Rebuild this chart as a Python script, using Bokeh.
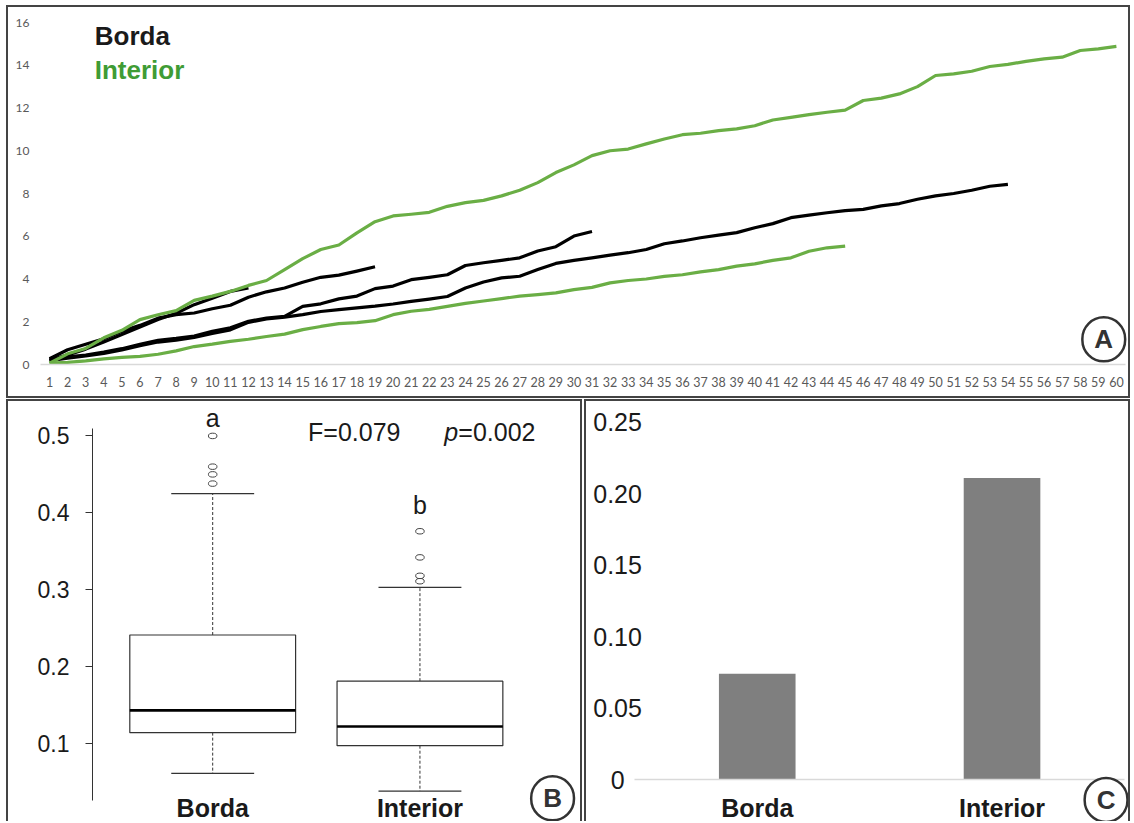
from bokeh.plotting import figure
from bokeh.models import Range1d, FixedTicker, Label, Spacer, LinearAxis
from bokeh.layouts import column, row
from bokeh.embed import file_html
from bokeh.resources import INLINE

FONT = "Liberation Sans"
TICK_FONT = "Lato"
GREEN = "#6aae45"
GREEN_TEXT = "#3f9c35"
INK = "#1a1a1a"
FRAME = "2px solid #444444"

# ---------------- Panel A: cumulative curves per day ----------------
days = list(range(1, 61))
borda_a = [0.20, 0.45, 0.72, 1.05, 1.40, 1.75, 2.10, 2.40, 2.80, 3.10, 3.42, 3.58]
borda_b = [0.27, 0.69, 0.95, 1.20, 1.55, 1.83, 2.17, 2.33, 2.41, 2.61,
           2.77, 3.15, 3.40, 3.58, 3.85, 4.08, 4.18, 4.37, 4.57]
borda_c = [0.22, 0.36, 0.44, 0.58, 0.74, 0.95, 1.13, 1.22, 1.33, 1.55,
           1.72, 2.02, 2.17, 2.25, 2.72, 2.84, 3.07, 3.20, 3.55, 3.67,
           3.97, 4.08, 4.20, 4.63, 4.76, 4.87, 4.99, 5.31, 5.51, 6.01, 6.22]
borda_d = [0.18, 0.30, 0.40, 0.52, 0.68, 0.88, 1.05, 1.14, 1.27, 1.45,
           1.62, 1.97, 2.13, 2.22, 2.33, 2.48, 2.57, 2.65, 2.73, 2.83,
           2.95, 3.06, 3.18, 3.58, 3.86, 4.05, 4.13, 4.44, 4.73, 4.87,
           4.99, 5.12, 5.23, 5.38, 5.65, 5.78, 5.93, 6.05, 6.17, 6.40,
           6.59, 6.87, 6.99, 7.10, 7.20, 7.26, 7.42, 7.53, 7.73, 7.89,
           8.00, 8.15, 8.34, 8.43]
interior_a = [0.06, 0.50, 0.75, 1.25, 1.60, 2.10, 2.33, 2.52, 3.00, 3.20,
              3.42, 3.70, 3.93, 4.44, 4.95, 5.38, 5.59, 6.16, 6.68, 6.95,
              7.03, 7.12, 7.40, 7.57, 7.68, 7.89, 8.15, 8.51, 8.98, 9.34,
              9.77, 10.00, 10.08, 10.32, 10.55, 10.75, 10.82, 10.94, 11.02, 11.17,
              11.44, 11.56, 11.69, 11.80, 11.90, 12.35, 12.46, 12.66, 13.00, 13.52,
              13.60, 13.72, 13.94, 14.04, 14.18, 14.30, 14.38, 14.69, 14.77, 14.88]
interior_b = [0.06, 0.10, 0.17, 0.26, 0.33, 0.38, 0.48, 0.64, 0.84, 0.95,
              1.08, 1.18, 1.31, 1.42, 1.63, 1.78, 1.91, 1.96, 2.05, 2.33,
              2.49, 2.58, 2.72, 2.86, 2.97, 3.08, 3.20, 3.27, 3.35, 3.50,
              3.61, 3.82, 3.93, 4.00, 4.12, 4.20, 4.33, 4.44, 4.60, 4.71,
              4.87, 4.99, 5.30, 5.46, 5.54]
a_yticks = [0, 2, 4, 6, 8, 10, 12, 14, 16]

# ---------------- Panel B: box plots ----------------
box_groups = ["Borda", "Interior"]
box_lower = [0.061, 0.038]
box_q1 = [0.114, 0.097]
box_median = [0.143, 0.122]
box_q3 = [0.241, 0.181]
box_upper = [0.425, 0.303]
box_outliers = [[0.438, 0.450, 0.460, 0.500], [0.311, 0.318, 0.342, 0.376]]
box_letters = ["a", "b"]
b_yticks = [0.1, 0.2, 0.3, 0.4, 0.5]

# ---------------- Panel C: bars ----------------
bar_groups = ["Borda", "Interior"]
bar_values = [0.074, 0.211]
c_yticks = [0, 0.05, 0.1, 0.15, 0.2, 0.25]
c_ylabels = ["0", "0.05", "0.10", "0.15", "0.20", "0.25"]


def bare(p):
    p.xgrid.visible = False
    p.ygrid.visible = False
    p.outline_line_color = None
    p.background_fill_color = "white"
    p.border_fill_color = "white"
    if p.title is not None:
        p.title.visible = False
    for ax in (p.xaxis[0], p.yaxis[0]):
        ax.minor_tick_line_color = None
        ax.major_tick_in = 0


def boxed(p, sides):
    st = {"box-sizing": "content-box"}
    for s in sides:
        st["border-" + s] = FRAME
    p.styles = st


def overrides(ticks, labels):
    d = {}
    for t, s in zip(ticks, labels):
        d[t] = s
        d[str(t)] = s
    return d


def badge(p, x, y, letter):
    kw = dict(x=x, y=y, text=letter, text_align="center", text_baseline="middle",
              text_font=FONT, text_font_style="bold", text_font_size="26px",
              text_color="#333333", border_line_color="#333333", border_line_width=2.5,
              background_fill_color="white", border_radius=22)
    lab = None
    for pad in (dict(x=12, y=7), dict(left=12, right=12, top=7, bottom=7), 9):
        try:
            lab = Label(padding=pad, **kw)
            break
        except Exception:
            continue
    p.add_layout(lab)


def note(p, x, y, text, size="25px", style="normal", color=INK, align="left"):
    p.add_layout(Label(x=x, y=y, text=text, text_align=align, text_baseline="middle",
                       text_font=FONT, text_font_style=style, text_font_size=size,
                       text_color=color))


def style_axis(ax, size, style="normal", color=INK, font=FONT, standoff=0):
    ax.major_label_text_font = font
    ax.major_label_text_font_style = style
    ax.major_label_text_font_size = size
    ax.major_label_text_color = color
    ax.major_label_standoff = standoff
    ax.minor_tick_line_color = None
    ax.major_tick_in = 0


# ---------- A ----------
pA = figure(width=1120, height=389, x_range=Range1d(0.5, 60.89), y_range=Range1d(0, 16),
            output_backend="svg", toolbar_location=None,
            min_border_left=32, min_border_right=0, min_border_top=15, min_border_bottom=36)
bare(pA)
boxed(pA, ["top", "left", "right", "bottom"])
xa = pA.xaxis[0]
xa.ticker = FixedTicker(ticks=days)
xa.bounds = (0.5, 60.5)
xa.axis_line_color = "#d9d9d9"
xa.axis_line_width = 1.5
xa.major_tick_line_color = None
xa.major_tick_out = 0
style_axis(xa, "12.5px", color="#595959", font=TICK_FONT, standoff=12)
ya = pA.yaxis[0]
ya.ticker = FixedTicker(ticks=a_yticks)
ya.axis_line_color = None
ya.major_tick_line_color = None
ya.major_tick_out = 0
style_axis(ya, "12px", color="#595959", font=TICK_FONT, standoff=11)

for series in (borda_a, borda_b, borda_c, borda_d):
    pA.line(days[:len(series)], series, line_color="black", line_width=3.2, line_join="round")
for series in (interior_a, interior_b):
    pA.line(days[:len(series)], series, line_color=GREEN, line_width=3.2, line_join="round")

note(pA, 3.5, 15.35, "Borda", size="26px", style="bold")
note(pA, 3.5, 13.79, "Interior", size="26px", style="bold", color=GREEN_TEXT)
badge(pA, 59.3, 1.18, "A")

# ---------- B ----------
pB = figure(width=572, height=420, x_range=Range1d(0.42, 2.794), y_range=Range1d(-0.0042, 0.5435),
            output_backend="svg", toolbar_location=None,
            min_border_left=84, min_border_right=0, min_border_top=1, min_border_bottom=0)
bare(pB)
boxed(pB, ["top", "left", "right"])
xb = pB.xaxis[0]
xb.fixed_location = 0.0337
xb.ticker = FixedTicker(ticks=[1, 2])
xb.major_label_overrides = overrides([1, 2], box_groups)
xb.axis_line_color = None
xb.major_tick_line_color = None
xb.major_tick_out = 0
style_axis(xb, "25px", style="bold", standoff=0)
yb = pB.yaxis[0]
yb.ticker = FixedTicker(ticks=b_yticks)
yb.bounds = (0.0259, 0.5095)
yb.major_label_overrides = overrides(b_yticks, ["0.1", "0.2", "0.3", "0.4", "0.5"])
yb.axis_line_color = "#333333"
yb.axis_line_width = 1
yb.major_tick_line_color = "#333333"
yb.major_tick_out = 7
style_axis(yb, "23px", standoff=16)

gx = [1, 2]
half_box, half_cap = 0.4, 0.2
pB.segment(x0=gx, y0=box_q3, x1=gx, y1=box_upper, line_color="#333333", line_width=1, line_dash="3 2")
pB.segment(x0=gx, y0=box_q1, x1=gx, y1=box_lower, line_color="#333333", line_width=1, line_dash="3 2")
pB.segment(x0=[g - half_cap for g in gx], y0=box_upper, x1=[g + half_cap for g in gx], y1=box_upper,
           line_color="#333333", line_width=1.3)
pB.segment(x0=[g - half_cap for g in gx], y0=box_lower, x1=[g + half_cap for g in gx], y1=box_lower,
           line_color="#333333", line_width=1.3)
pB.vbar(x=gx, width=2 * half_box, bottom=box_q1, top=box_q3, fill_color="white",
        line_color="#333333", line_width=1.2)
pB.segment(x0=[g - half_box for g in gx], y0=box_median, x1=[g + half_box for g in gx], y1=box_median,
           line_color="black", line_width=2.6)
ox, oy = [], []
for g, outs in zip(gx, box_outliers):
    ox += [g] * len(outs)
    oy += outs
pB.ellipse(x=ox, y=oy, width=8.5, height=5.5, width_units="screen", height_units="screen",
           fill_color=None, line_color="#444444", line_width=1)

for g, letter, ly in zip(gx, box_letters, [0.5233, 0.4098]):
    note(pB, g, ly, letter, align="center")
note(pB, 1.46, 0.5052, "F=0.079")
note(pB, 2.117, 0.5052, "p", style="italic")
note(pB, 2.185, 0.5052, "=0.002")
badge(pB, 2.64, 0.0285, "B")

# ---------- C ----------
pC = figure(width=542, height=420, x_range=Range1d(0.3025, 2.533), y_range=Range1d(-0.0307, 0.2638),
            output_backend="svg", toolbar_location=None,
            min_border_left=0, min_border_right=0, min_border_top=1, min_border_bottom=0)
bare(pC)
boxed(pC, ["top", "left", "right"])
xc = pC.xaxis[0]
xc.fixed_location = 0
xc.bounds = (0.5, 2.5)
xc.ticker = FixedTicker(ticks=[1, 2])
xc.major_label_overrides = overrides([1, 2], bar_groups)
xc.axis_line_color = "#d9d9d9"
xc.axis_line_width = 1.5
xc.major_tick_line_color = None
xc.major_tick_out = 0
style_axis(xc, "25px", style="bold", standoff=14)

# value labels sit centred in a column left of the plot area: the zero label
# gets its own axis so that it lines up under the wider labels
yc = pC.yaxis[0]
yc.fixed_location = 0.5288
yc.ticker = FixedTicker(ticks=c_yticks[1:])
yc.major_label_overrides = overrides(c_yticks[1:], c_ylabels[1:])
yc.axis_line_color = None
yc.major_tick_line_color = None
yc.major_tick_out = 0
style_axis(yc, "25px", standoff=0)
yc0 = LinearAxis(fixed_location=0.4588, ticker=FixedTicker(ticks=c_yticks[:1]),
                 major_label_overrides=overrides(c_yticks[:1], c_ylabels[:1]),
                 axis_line_color=None, major_tick_line_color=None, major_tick_out=0)
style_axis(yc0, "25px", standoff=0)
pC.add_layout(yc0, "left")

pC.vbar(x=[1, 2], top=bar_values, width=0.313, fill_color="#7f7f7f", line_color=None)
badge(pC, 2.425, -0.0142, "C")

layout = column(
    Spacer(height=5),
    row(Spacer(width=6), pA),
    Spacer(height=1),
    row(Spacer(width=6), pB, Spacer(width=2), pC),
)

open("out.html", "w").write(file_html(layout, INLINE))
